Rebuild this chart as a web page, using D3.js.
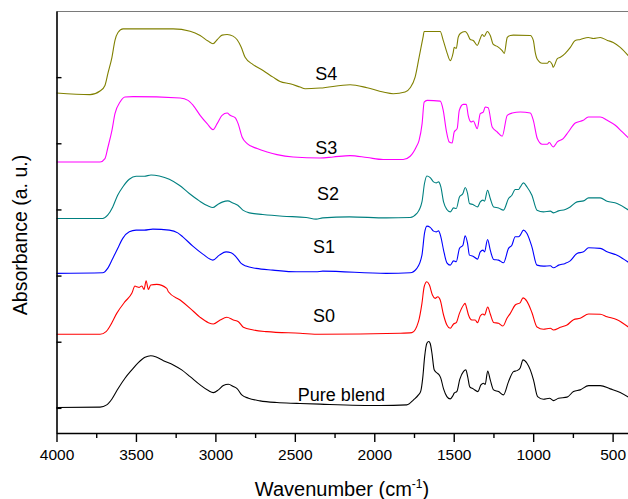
<!DOCTYPE html>
<html><head><meta charset="utf-8">
<script src="https://cdn.jsdelivr.net/npm/d3@7"></script>
<style>body{margin:0;background:#fff}svg{display:block}text{font-family:Arial,"Liberation Sans",sans-serif}</style>
</head><body>
<svg id="c" width="628" height="499"></svg>
<script>
const xTicks = [4000,3500,3000,2500,2000,1500,1000,500];
const xMinorTicks = [3750,3250,2750,2250,1750,1250,750];
const yTicks = [0,1,2,3,4,5];
const seriesNames = ["S4","S3","S2","S1","S0","Pure blend"];

const s4 = [[4000,4.76],[3789,4.735],[3726,4.79],[3695,4.875],[3676,5.06],[3651,5.30],[3632,5.555],[3613,5.675],[3581,5.73],[3266,5.73],[3159,5.695],[3096,5.63],[3046,5.545],[3015,5.505],[2989,5.565],[2958,5.635],[2926,5.645],[2889,5.62],[2863,5.565],[2838,5.455],[2813,5.30],[2763,5.19],[2700,5.10],[2637,5.00],[2593,4.935],[2530,4.90],[2467,4.85],[2435,4.825],[2341,4.835],[2152,4.886],[2045,4.84],[1944,4.775],[1881,4.75],[1806,4.775],[1774,4.84],[1743,5.00],[1718,5.30],[1693,5.605],[1686,5.69],[1630,5.69],[1585,5.69],[1566,5.555],[1541,5.36],[1522,5.25],[1503,5.375],[1497,5.45],[1484,5.435],[1472,5.60],[1459,5.66],[1428,5.69],[1415,5.66],[1396,5.57],[1377,5.555],[1352,5.48],[1333,5.585],[1321,5.645],[1308,5.615],[1289,5.69],[1270,5.63],[1251,5.495],[1226,5.465],[1195,5.40],[1182,5.36],[1163,5.60],[1144,5.63],[1125,5.635],[1018,5.63],[999,5.555],[987,5.375],[974,5.27],[943,5.21],[911,5.21],[899,5.24],[880,5.19],[874,5.15],[848,5.28],[829,5.30],[798,5.36],[766,5.45],[735,5.555],[703,5.57],[653,5.60],[621,5.585],[578,5.60],[533,5.555],[496,5.525],[452,5.45],[400,5.32]];

const s3 = [[4000,3.718],[3726,3.718],[3695,3.769],[3676,3.944],[3651,4.196],[3632,4.448],[3600,4.623],[3569,4.699],[3518,4.705],[3222,4.684],[3172,4.649],[3140,4.574],[3096,4.423],[3052,4.297],[3015,4.207],[2989,4.297],[2958,4.423],[2926,4.457],[2907,4.423],[2876,4.388],[2857,4.297],[2832,4.095],[2800,3.995],[2737,3.92],[2674,3.869],[2612,3.829],[2511,3.793],[2341,3.778],[2259,3.793],[2152,3.814],[2045,3.784],[1944,3.754],[1818,3.754],[1774,3.804],[1736,3.944],[1718,4.045],[1699,4.297],[1686,4.623],[1667,4.649],[1585,4.638],[1566,4.498],[1547,4.196],[1528,4.02],[1510,4.005],[1497,4.171],[1478,4.226],[1465,4.498],[1440,4.589],[1421,4.589],[1409,4.423],[1390,4.322],[1377,4.337],[1352,4.222],[1333,4.448],[1314,4.472],[1302,4.548],[1283,4.539],[1258,4.246],[1226,4.171],[1195,4.106],[1163,4.423],[1132,4.457],[1081,4.472],[1018,4.457],[999,4.347],[974,4.071],[943,3.985],[911,3.985],[899,4.011],[874,3.944],[848,4.02],[811,4.071],[779,4.171],[735,4.306],[685,4.347],[653,4.397],[578,4.397],[533,4.347],[483,4.272],[439,4.171],[400,4.08]];

const s2 = [[4000,2.863],[3709,2.863],[3678,2.913],[3646,3.038],[3615,3.215],[3583,3.34],[3542,3.457],[3499,3.502],[3447,3.502],[3405,3.521],[3353,3.506],[3290,3.457],[3227,3.366],[3164,3.241],[3101,3.129],[3048,3.054],[3016,3.029],[2985,3.075],[2953,3.114],[2922,3.129],[2890,3.099],[2859,3.064],[2827,2.989],[2786,2.948],[2702,2.924],[2576,2.898],[2429,2.878],[2366,2.853],[2324,2.872],[2156,2.888],[1925,2.872],[1774,2.878],[1732,2.939],[1700,3.114],[1684,3.392],[1669,3.506],[1648,3.482],[1627,3.416],[1610,3.401],[1596,3.416],[1581,3.34],[1564,3.114],[1543,2.999],[1522,2.963],[1501,3.023],[1484,3.014],[1464,3.189],[1442,3.241],[1428,3.331],[1413,3.241],[1401,3.09],[1379,3.075],[1350,3.038],[1333,3.114],[1316,3.14],[1306,3.125],[1287,3.291],[1270,3.165],[1249,3.038],[1218,3.023],[1187,2.989],[1155,3.165],[1134,3.215],[1113,3.301],[1092,3.301],[1081,3.34],[1061,3.401],[1039,3.34],[1008,3.215],[976,2.989],[935,2.963],[892,2.974],[872,2.948],[840,2.978],[798,2.999],[767,3.038],[724,3.114],[683,3.129],[651,3.174],[578,3.174],[535,3.125],[472,3.09],[400,2.99]];

const s1 = [[4000,2.033],[3709,2.042],[3678,2.109],[3646,2.26],[3615,2.411],[3583,2.562],[3542,2.661],[3499,2.687],[3447,2.687],[3394,2.702],[3290,2.687],[3237,2.646],[3205,2.586],[3142,2.445],[3079,2.325],[3016,2.234],[2975,2.309],[2933,2.359],[2901,2.344],[2870,2.284],[2838,2.184],[2807,2.143],[2744,2.109],[2639,2.083],[2492,2.057],[2366,2.057],[2324,2.068],[1925,2.033],[1774,2.042],[1732,2.109],[1700,2.309],[1684,2.637],[1669,2.747],[1648,2.728],[1627,2.672],[1610,2.661],[1596,2.676],[1581,2.586],[1564,2.385],[1543,2.193],[1522,2.158],[1501,2.223],[1484,2.208],[1464,2.411],[1442,2.46],[1428,2.601],[1413,2.486],[1401,2.309],[1379,2.294],[1350,2.249],[1333,2.359],[1316,2.385],[1306,2.359],[1287,2.546],[1270,2.385],[1249,2.244],[1218,2.234],[1187,2.193],[1155,2.411],[1134,2.46],[1113,2.586],[1092,2.586],[1081,2.611],[1061,2.687],[1039,2.637],[1008,2.435],[976,2.158],[935,2.143],[892,2.148],[872,2.118],[840,2.158],[798,2.184],[767,2.223],[724,2.335],[683,2.359],[651,2.42],[578,2.411],[535,2.359],[472,2.309],[400,2.2]];

const s0 = [[4000,1.112],[3726,1.112],[3688,1.152],[3663,1.238],[3621,1.429],[3569,1.605],[3526,1.731],[3506,1.842],[3495,1.831],[3479,1.822],[3463,1.842],[3449,1.792],[3436,1.921],[3422,1.792],[3407,1.857],[3369,1.867],[3306,1.807],[3296,1.755],[3222,1.63],[3159,1.505],[3096,1.369],[3044,1.288],[3013,1.268],[2970,1.328],[2928,1.369],[2887,1.328],[2855,1.303],[2824,1.218],[2761,1.177],[2676,1.152],[2467,1.128],[2341,1.112],[1838,1.128],[1763,1.137],[1722,1.303],[1700,1.58],[1686,1.831],[1669,1.906],[1653,1.857],[1634,1.706],[1617,1.656],[1600,1.68],[1585,1.63],[1564,1.404],[1543,1.253],[1522,1.203],[1501,1.268],[1484,1.288],[1464,1.429],[1438,1.555],[1428,1.58],[1421,1.529],[1407,1.404],[1386,1.328],[1365,1.328],[1350,1.288],[1333,1.389],[1316,1.419],[1306,1.404],[1286,1.525],[1270,1.419],[1249,1.291],[1218,1.278],[1190,1.238],[1165,1.354],[1144,1.429],[1113,1.555],[1081,1.592],[1064,1.663],[1039,1.61],[1008,1.442],[976,1.223],[935,1.188],[892,1.203],[872,1.177],[829,1.218],[787,1.253],[746,1.333],[704,1.354],[651,1.419],[578,1.416],[535,1.378],[472,1.333],[400,1.22]];

const pure = [[4000,0.005],[3726,0.011],[3684,0.045],[3652,0.131],[3611,0.297],[3569,0.448],[3526,0.574],[3485,0.684],[3443,0.765],[3407,0.789],[3369,0.765],[3327,0.714],[3265,0.649],[3212,0.574],[3159,0.472],[3096,0.347],[3044,0.261],[3013,0.231],[2981,0.272],[2950,0.337],[2918,0.358],[2887,0.322],[2862,0.287],[2834,0.196],[2792,0.146],[2719,0.106],[2613,0.08],[2487,0.068],[2341,0.056],[1963,0.035],[1795,0.045],[1753,0.121],[1722,0.196],[1707,0.257],[1695,0.453],[1683,0.774],[1669,0.977],[1657,1.004],[1648,0.974],[1637,0.826],[1623,0.575],[1606,0.528],[1594,0.506],[1582,0.453],[1564,0.287],[1543,0.171],[1522,0.136],[1506,0.181],[1497,0.222],[1480,0.249],[1462,0.43],[1438,0.551],[1424,0.574],[1412,0.468],[1399,0.317],[1377,0.287],[1348,0.246],[1329,0.347],[1312,0.373],[1302,0.355],[1286,0.558],[1270,0.423],[1249,0.272],[1218,0.246],[1187,0.196],[1155,0.397],[1124,0.548],[1102,0.563],[1081,0.608],[1064,0.725],[1039,0.675],[1018,0.574],[998,0.423],[972,0.171],[935,0.131],[897,0.146],[872,0.11],[840,0.146],[787,0.162],[746,0.246],[704,0.272],[651,0.337],[578,0.337],[515,0.287],[452,0.231],[400,0.16]];

const seriesData = [s4, s3, s2, s1, s0, pure];
const seriesColors = ["#808000","#FF00FF","#008080","#0000FF","#FF0000","#000000"];
const labelPos = [[2372,4.95],[2372,3.834],[2360,3.14],[2385,2.34],[2385,1.30],[2481,0.098]];

const svg = d3.select("#c");
const L = 56.5, R = 628.5, T = 11, B = 433;
const x = d3.scaleLinear().domain([4000,400]).range([L,R]);
const y = d3.scaleLinear().domain([-0.38,6]).range([B,T]);

// top frame
svg.append("line").attr("x1",L).attr("x2",628).attr("y1",T+0.5).attr("y2",T+0.5)
  .attr("stroke","#7a7a7a").attr("stroke-width",1.2);

const line = d3.line().x(d=>x(d[0])).y(d=>y(d[1])).curve(d3.curveMonotoneX);
seriesData.forEach((s,i)=>{
  svg.append("path").datum(s).attr("d",line).attr("fill","none")
    .attr("stroke",seriesColors[i]).attr("stroke-width",1.1);
});

// x axis
const gx = svg.append("g").attr("transform",`translate(0,${B})`)
  .call(d3.axisBottom(x).tickValues(xTicks).tickFormat(d3.format("d")).tickSizeInner(9).tickSizeOuter(0).tickPadding(7));
gx.select(".domain").attr("stroke","#000").attr("stroke-width",1.6);
gx.selectAll(".tick line").attr("stroke-width",1.4);
gx.selectAll("text").attr("font-size","15.5px").attr("fill","#000");
const gxm = svg.append("g").attr("transform",`translate(0,${B})`)
  .call(d3.axisBottom(x).tickValues(xMinorTicks).tickFormat("").tickSizeInner(5).tickSizeOuter(0));
gxm.select(".domain").remove();
gxm.selectAll(".tick line").attr("stroke-width",1.4);

// y axis
const gy = svg.append("g").attr("transform",`translate(${L},0)`)
  .call(d3.axisLeft(y).tickValues(yTicks).tickFormat("").tickSizeInner(-5).tickSizeOuter(0));
gy.select(".domain").attr("stroke","#000").attr("stroke-width",1.6);
gy.selectAll(".tick line").attr("stroke-width",1.4);

// series labels
seriesNames.forEach((n,i)=>{
  svg.append("text").attr("x",x(labelPos[i][0])).attr("y",y(labelPos[i][1]))
    .attr("font-size","18px").attr("fill","#000").text(n);
});

// axis titles
const xt = svg.append("text").attr("x",342).attr("y",496).attr("text-anchor","middle")
  .attr("font-size","20px").attr("fill","#000");
xt.append("tspan").text("Wavenumber (cm");
xt.append("tspan").attr("dy",-8).attr("font-size","12px").text("-1");
xt.append("tspan").attr("dy",8).text(")");

svg.append("text").attr("transform","translate(27,235) rotate(-90)").attr("text-anchor","middle")
  .attr("font-size","19.5px").attr("fill","#000").text("Absorbance (a. u.)");
</script>
</body></html>
